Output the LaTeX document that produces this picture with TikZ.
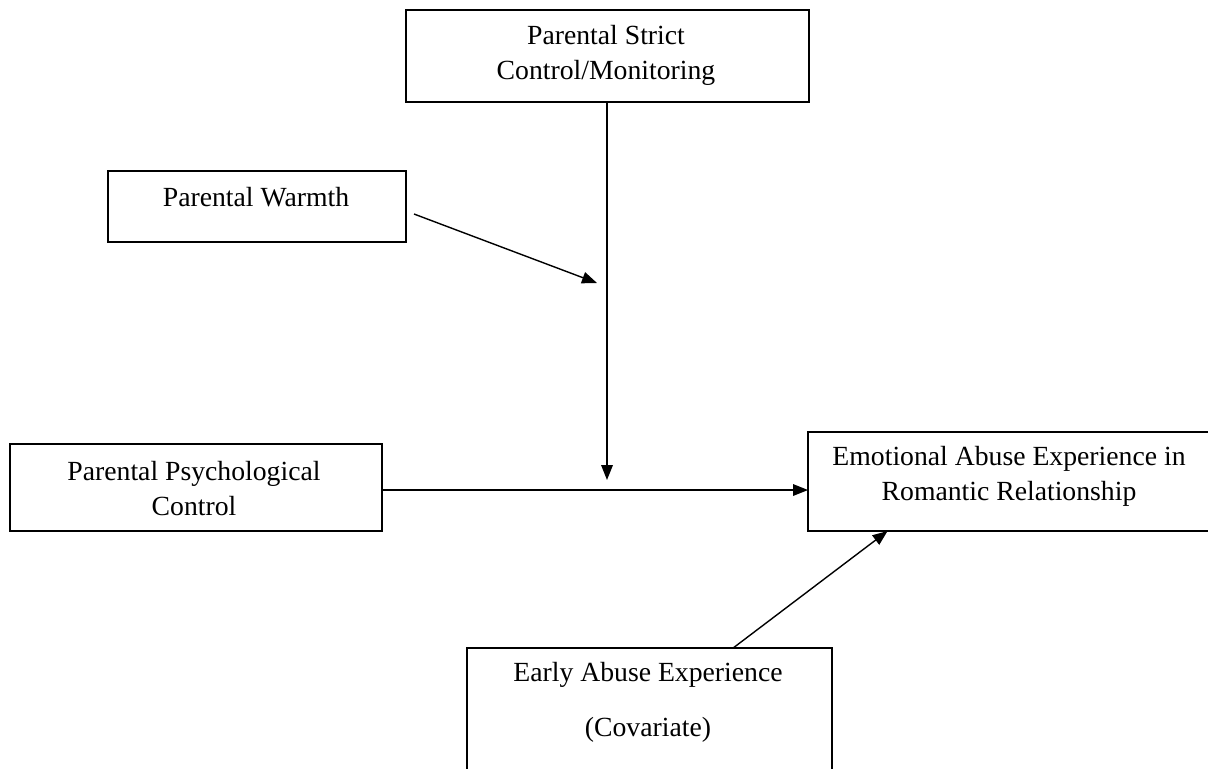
\documentclass[tikz,border=0pt]{standalone}
\usepackage{fontspec}
\setmainfont{Liberation Serif}
\usetikzlibrary{arrows.meta,calc}
\begin{document}
\begin{tikzpicture}[x=0.5pt,y=-0.5pt,
  box/.style={draw,line width=0.85pt,rectangle,inner sep=0pt,outer sep=0pt},
  lbl/.style={inner sep=0pt,align=center,font=\fontsize{13.85}{17.5}\selectfont},
  arr/.style={line width=0.7pt,-{Triangle[length=7.5pt,width=5.8pt]}},
  ln/.style={line width=0.7pt}]
\useasboundingbox (0,0) rectangle (1208,768);
% boxes
\node[box,minimum width=201.5pt,minimum height=46pt] (strict) at (607.5,56) {};
\node[box,minimum width=149pt,minimum height=35.5pt] (warmth) at (257,206.5) {};
\node[box,minimum width=186pt,minimum height=43.5pt] (psych) at (196,487.5) {};
\node[box,minimum width=201pt,minimum height=49.5pt] (emo) at (1009,481.5) {};
\node[box,minimum width=182.5pt,minimum height=71pt] (early) at (649.5,719) {};
% texts
\node[lbl] (tstrict) at (606,55) {Parental Strict\\Control/Monitoring};
\node[lbl] (twarmth) at (256,197) {Parental Warmth};
\node[lbl] (tpsych) at (194,489) {Parental Psychological\\Control};
\node[lbl] (temo) at (1009,476) {Emotional Abuse Experience in\\Romantic Relationship};
\node[lbl,font=\fontsize{13.85}{27.5}\selectfont] (tearly) at (648,702) {Early Abuse Experience\\(Covariate)};
% connectors
\coordinate (m1) at (607,480);
\coordinate (w1) at (414,214);
\coordinate (w2) at (597,283);
\coordinate (hy) at (0,490);
\draw[arr] (strict.south -| m1) -- (m1);
\draw[arr] (w1) -- (w2);
\draw[arr] (psych.east |- hy) -- (emo.west |- hy);
\draw[arr] ($(early.north west)!0.729!(early.north east)$) -- ($(emo.south west)!0.198!(emo.south east)$);
\end{tikzpicture}
\end{document}
